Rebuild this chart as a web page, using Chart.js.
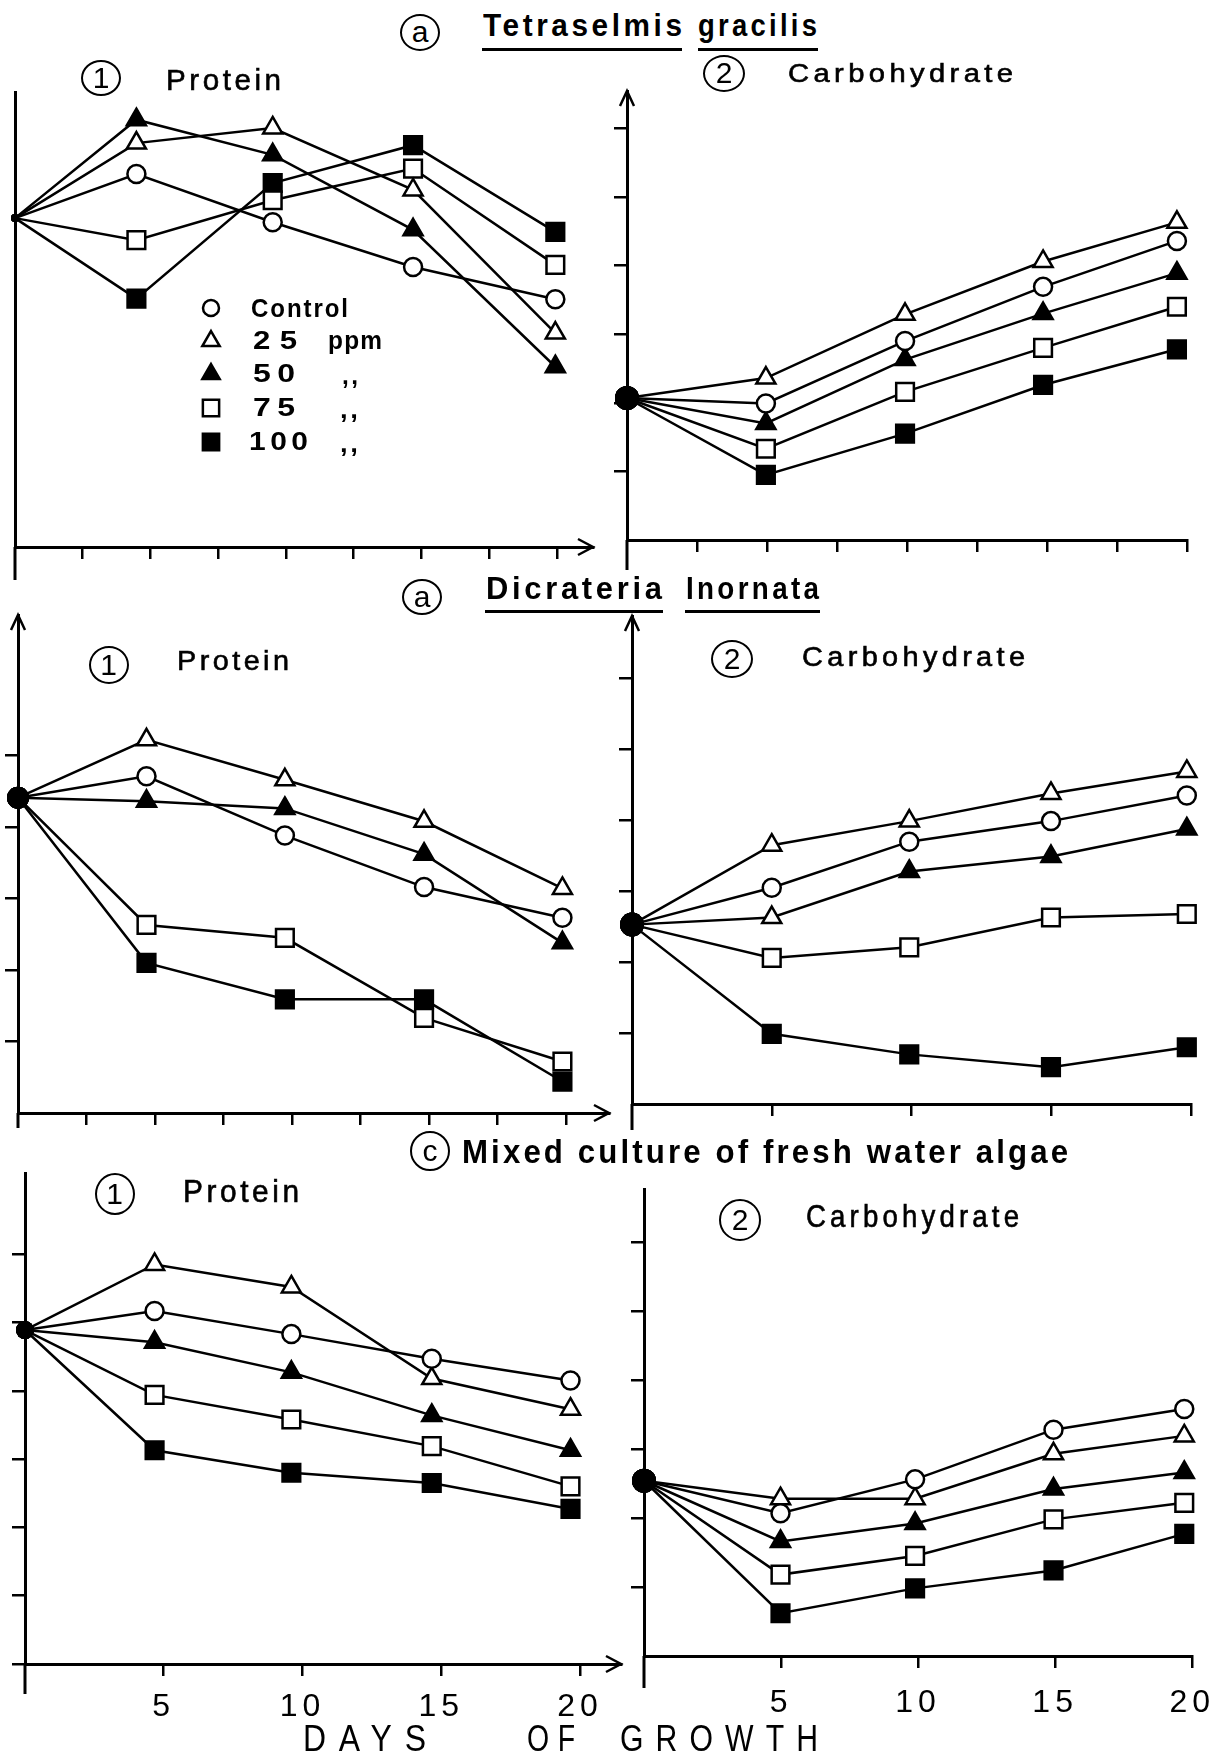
<!DOCTYPE html>
<html><head><meta charset="utf-8">
<script src="https://cdn.jsdelivr.net/npm/chart.js@4/dist/chart.umd.min.js"></script>
<style>
html,body{margin:0;padding:0;background:#fff;}
body{position:relative;width:1226px;height:1759px;overflow:hidden;color:#000;}
canvas{position:absolute;}
.t{position:absolute;white-space:nowrap;line-height:1;transform-origin:0 0;font-family:"Liberation Sans",Arial,sans-serif;}
.med{-webkit-text-stroke:0.6px #000;}
.circ{position:absolute;border:2.5px solid #000;border-radius:50%;box-sizing:border-box;display:flex;align-items:center;justify-content:center;font-family:"Liberation Sans",Arial,sans-serif;line-height:1;}
.ul{position:absolute;height:3px;background:#000;}
</style></head><body>
<script>
// ---------------- DATA (arbitrary units) ----------------
const seriesLabels = ['Control', '25 ppm', '50 ppm', '75 ppm', '100 ppm'];

// days of growth, as placed on each panel
const daysTetraProtein = [0, 4.48, 9.51, 14.69, 19.94];
const daysTetraCarb    = [0, 4.96, 9.93, 14.86, 19.64];
const daysDicraProtein = [0, 4.69, 9.74, 14.82, 19.87];
const daysDicraCarb    = [0, 5.00, 9.92, 14.99, 19.85];
const daysMixedProtein = [0, 4.67, 9.60, 14.66, 19.66];
const daysMixedCarb    = [0, 4.98, 9.89, 14.94, 19.71];

// (a) Tetraselmis gracilis - Protein
const tetraProteinControl = [4.78, 5.42, 4.72, 4.07, 3.60];
const tetraProtein25      = [4.78, 5.87, 6.09, 5.19, 3.11];
const tetraProtein50      = [4.78, 6.21, 5.70, 4.61, 2.62];
const tetraProtein75      = [4.78, 4.46, 5.04, 5.50, 4.10];
const tetraProtein100     = [4.78, 3.61, 5.29, 5.84, 4.58];
// (a) Tetraselmis gracilis - Carbohydrate
const tetraCarbControl = [2.07, 1.99, 2.90, 3.69, 4.36];
const tetraCarb25      = [2.07, 2.36, 3.29, 4.06, 4.63];
const tetraCarb50      = [2.07, 1.70, 2.63, 3.30, 3.89];
const tetraCarb75      = [2.07, 1.33, 2.16, 2.80, 3.40];
const tetraCarb100     = [2.07, 0.95, 1.55, 2.26, 2.78];
// (a) Dicrateria inornata - Protein
const dicraProteinControl = [4.41, 4.71, 3.88, 3.16, 2.73];
const dicraProtein25      = [4.41, 5.22, 4.66, 4.08, 3.14];
const dicraProtein50      = [4.41, 4.36, 4.26, 3.62, 2.38];
const dicraProtein75      = [4.41, 2.63, 2.45, 1.33, 0.72];
const dicraProtein100     = [4.41, 2.10, 1.59, 1.59, 0.44];
// (a) Dicrateria inornata - Carbohydrate
const dicraCarbControl = [2.53, 3.05, 3.70, 3.99, 4.35];
const dicraCarb25      = [2.53, 3.65, 3.99, 4.38, 4.69];
const dicraCarb50      = [2.53, 2.63, 3.28, 3.49, 3.88];
const dicraCarb75      = [2.53, 2.06, 2.21, 2.63, 2.68];
const dicraCarb100     = [2.53, 0.99, 0.70, 0.52, 0.80];
// (c) Mixed culture - Protein
const mixedProteinControl = [4.89, 5.17, 4.83, 4.47, 4.15];
const mixedProtein25      = [4.89, 5.85, 5.52, 4.18, 3.73];
const mixedProtein50      = [4.89, 4.71, 4.27, 3.64, 3.13];
const mixedProtein75      = [4.89, 3.94, 3.58, 3.19, 2.60];
const mixedProtein100     = [4.89, 3.13, 2.80, 2.65, 2.27];
// (c) Mixed culture - Carbohydrate
const mixedCarbControl = [2.54, 2.07, 2.56, 3.28, 3.58];
const mixedCarb25      = [2.54, 2.28, 2.28, 2.93, 3.19];
const mixedCarb50      = [2.54, 1.66, 1.92, 2.42, 2.66];
const mixedCarb75      = [2.54, 1.18, 1.45, 1.98, 2.22];
const mixedCarb100     = [2.54, 0.62, 0.98, 1.24, 1.77];

// tick positions / labels
const halfStepDayTicks = [2.5, 5, 7.5, 10, 12.5, 15, 17.5, 20];
const fiveDayTicks = [5, 10, 15, 20];
const dayTickLabels = ['5', '10', '15', '20'];
const yTicks1to5 = [1, 2, 3, 4, 5];
const yTicks1to6 = [1, 2, 3, 4, 5, 6];
const yTicks0to6 = [0, 1, 2, 3, 4, 5, 6];

// ---------------- STYLES ----------------
const markerStyles = [
  {style: 'circle',   fill: '#fff', r: 9},
  {style: 'triangle', fill: '#fff', r: 11},
  {style: 'triangle', fill: '#000', r: 11},
  {style: 'rect',     fill: '#fff', r: 12.5},
  {style: 'rect',     fill: '#000', r: 12.5}
];
const TICK_FONT = '"Liberation Sans", Arial, sans-serif';

const decor = new Map();
const axisDecor = {
  id: 'axisDecor',
  beforeDraw(chart) {
    const d = decor.get(chart.canvas);
    if (d && d.letterSpacing) { try { chart.ctx.letterSpacing = d.letterSpacing; } catch (e) {} }
  },
  afterDraw(chart) {
    const d = decor.get(chart.canvas); if (!d) return;
    const ctx = chart.ctx, a = chart.chartArea;
    ctx.save();
    ctx.strokeStyle = '#000'; ctx.lineWidth = 3; ctx.lineCap = 'butt';
    if (d.yExt) { ctx.beginPath(); ctx.moveTo(a.left, a.bottom); ctx.lineTo(a.left, a.bottom + d.yExt); ctx.stroke(); }
    ctx.lineWidth = 2.5;
    if (d.arrowX) { ctx.beginPath(); ctx.moveTo(a.right - 15, a.bottom - 8); ctx.lineTo(a.right, a.bottom); ctx.lineTo(a.right - 15, a.bottom + 8); ctx.stroke(); }
    if (d.arrowY) { ctx.beginPath(); ctx.moveTo(a.left - 7, a.top + 15); ctx.lineTo(a.left, a.top); ctx.lineTo(a.left + 7, a.top + 15); ctx.stroke(); }
    if (d.legend) {
      d.legend.forEach(s => {
        ctx.fillStyle = s.fill; ctx.strokeStyle = '#000'; ctx.lineWidth = 2.5;
        Chart.helpers.drawPoint(ctx, {pointStyle: s.style, radius: s.r, borderWidth: 2.5, rotation: 0}, s.x - d.left, s.y - d.top);
      });
    }
    ctx.restore();
  }
};
Chart.register(axisDecor);

// panel geometry (page pixels): y-axis x, x-axis y, axis top, axis right end
const panels = [
  {days: daysTetraProtein, series: [tetraProteinControl, tetraProtein25, tetraProtein50, tetraProtein75, tetraProtein100],
   X: 15, Y: 547, T: 92, R: 593, wY: 15, hX: 40, pt: 6, pr: 8, xMax: 21.33, yMax: 6.613,
   xTicks: halfStepDayTicks, yTicks: null, arrowX: true, arrowY: false, yExt: 33, originR: 4,
   legend: [
     {style: 'circle', fill: '#fff', r: 8, x: 211, y: 308},
     {style: 'triangle', fill: '#fff', r: 10, x: 211, y: 341},
     {style: 'triangle', fill: '#000', r: 10, x: 211, y: 374},
     {style: 'rect', fill: '#fff', r: 11.5, x: 211, y: 408},
     {style: 'rect', fill: '#000', r: 11.5, x: 211, y: 442}
   ]},
  {days: daysTetraCarb, series: [tetraCarbControl, tetraCarb25, tetraCarb50, tetraCarb75, tetraCarb100],
   X: 627, Y: 540, T: 91, R: 1187, wY: 20, hX: 40, pt: 6, pr: 10, xMax: 20, yMax: 6.545,
   xTicks: halfStepDayTicks, yTicks: yTicks1to6, arrowX: false, arrowY: true, yExt: 30, originR: 12},
  {days: daysDicraProtein, series: [dicraProteinControl, dicraProtein25, dicraProtein50, dicraProtein75, dicraProtein100],
   X: 18, Y: 1113, T: 615, R: 609, wY: 18, hX: 40, pt: 6, pr: 8, xMax: 21.57, yMax: 6.965,
   xTicks: halfStepDayTicks, yTicks: yTicks1to5, arrowX: true, arrowY: true, yExt: 15, originR: 11},
  {days: daysDicraCarb, series: [dicraCarbControl, dicraCarb25, dicraCarb50, dicraCarb75, dicraCarb100],
   X: 632, Y: 1104, T: 616, R: 1191, wY: 20, hX: 40, pt: 6, pr: 10, xMax: 20, yMax: 6.883,
   xTicks: fiveDayTicks, yTicks: yTicks1to6, arrowX: false, arrowY: true, yExt: 26, originR: 12,
   openPts: [[2, 1]]},
  {days: daysMixedProtein, series: [mixedProteinControl, mixedProtein25, mixedProtein50, mixedProtein75, mixedProtein100],
   X: 25, Y: 1664, T: 1173, R: 621, wY: 25, hX: 80, pt: 6, pr: 9, xMax: 21.48, yMax: 7.189,
   xTicks: fiveDayTicks, yTicks: yTicks0to6, arrowX: true, arrowY: false, yExt: 30, originR: 9,
   xLabels: true, labelPad: 12},
  {days: daysMixedCarb, series: [mixedCarbControl, mixedCarb25, mixedCarb50, mixedCarb75, mixedCarb100],
   X: 644, Y: 1656, T: 1189, R: 1205, wY: 20, hX: 80, pt: 6, pr: 21, xMax: 20, yMax: 6.768,
   xTicks: fiveDayTicks, yTicks: yTicks1to6, arrowX: false, arrowY: false, yExt: 32, originR: 12,
   xLabels: true, labelPad: 16}
];

panels.forEach(p => {
  const left = p.X - p.wY, top = p.T - p.pt;
  const w = Math.round(p.R + p.pr - left), h = Math.round(p.Y + p.hX - top);
  const cv = document.createElement('canvas');
  cv.width = w; cv.height = h;
  cv.style.left = left + 'px'; cv.style.top = top + 'px';
  cv.style.width = w + 'px'; cv.style.height = h + 'px';
  document.body.appendChild(cv);
  decor.set(cv, {left, top, yExt: p.yExt, arrowX: p.arrowX, arrowY: p.arrowY, legend: p.legend,
                 letterSpacing: p.xLabels ? '5px' : null});
  const open = p.openPts || [];
  const datasets = p.series.map((vals, si) => {
    const st = markerStyles[si];
    return {
      label: seriesLabels[si],
      data: p.days.map((d, i) => ({x: d, y: vals[i]})),
      borderColor: '#000', borderWidth: 2.5, fill: false, tension: 0, clip: false,
      pointStyle: p.days.map((_, i) => i === 0 ? 'circle' : st.style),
      pointRadius: p.days.map((_, i) => i === 0 ? p.originR : st.r),
      pointHoverRadius: p.days.map((_, i) => i === 0 ? p.originR : st.r),
      pointBackgroundColor: p.days.map((_, i) => i === 0 ? '#000' :
        (open.some(q => q[0] === si && q[1] === i) ? '#fff' : st.fill)),
      pointBorderColor: '#000',
      pointBorderWidth: p.days.map((_, i) => i === 0 ? 0 : 2.5)
    };
  });
  new Chart(cv, {
    type: 'line',
    data: {datasets},
    options: {
      responsive: false, animation: false, devicePixelRatio: 1, events: [],
      layout: {autoPadding: false, padding: {top: p.pt, right: p.pr, left: 0, bottom: 0}},
      plugins: {legend: {display: false}, tooltip: {enabled: false}},
      scales: {
        x: {
          type: 'linear', min: 0, max: p.xMax,
          afterBuildTicks: s => { s.ticks = p.xTicks.map(v => ({value: v})); },
          afterFit: s => { s.height = p.hX; },
          grid: {display: true, drawOnChartArea: false, drawTicks: true, tickLength: 12, color: '#000', lineWidth: 2.5},
          border: {display: true, color: '#000', width: 3},
          ticks: {display: !!p.xLabels, autoSkip: false, maxRotation: 0, minRotation: 0, padding: p.labelPad || 0,
                  color: '#000', font: {family: TICK_FONT, size: 32},
                  callback: v => { const k = fiveDayTicks.indexOf(v); return k >= 0 ? dayTickLabels[k] : ''; }}
        },
        y: {
          type: 'linear', min: 0, max: p.yMax,
          afterBuildTicks: s => { s.ticks = (p.yTicks || [0]).map(v => ({value: v})); },
          afterFit: s => { s.width = p.wY; },
          grid: {display: !!p.yTicks, drawOnChartArea: false, drawTicks: true, tickLength: 13, color: '#000', lineWidth: 2.5},
          border: {display: true, color: '#000', width: 3},
          ticks: {display: false}
        }
      }
    }
  });
});

// ---------------- TEXT ----------------
function addText(txt, left, baseline, cap, width, weight, lsEm, cls) {
  const f = cap / 0.716;
  const s = document.createElement('span');
  s.className = 't' + (cls ? ' ' + cls : '');
  s.textContent = txt;
  s.style.left = left + 'px';
  s.style.top = (baseline - 0.8465 * f) + 'px';
  s.style.fontSize = f + 'px';
  s.style.fontWeight = weight;
  s.style.letterSpacing = (lsEm || 0) + 'em';
  document.body.appendChild(s);
  if (width) {
    const vis = s.getBoundingClientRect().width - (lsEm || 0) * f;
    s.style.transform = 'scaleX(' + (width / vis) + ')';
  }
}
function addCirc(ch, cx, cy, w, h, fs) {
  const d = document.createElement('div');
  d.className = 'circ';
  d.textContent = ch;
  d.style.left = (cx - w / 2) + 'px'; d.style.top = (cy - h / 2) + 'px';
  d.style.width = w + 'px'; d.style.height = h + 'px'; d.style.fontSize = fs + 'px';
  document.body.appendChild(d);
}
function addUL(x, y, w) {
  const d = document.createElement('div');
  d.className = 'ul';
  d.style.left = x + 'px'; d.style.top = y + 'px'; d.style.width = w + 'px';
  document.body.appendChild(d);
}

// titles
addCirc('a', 420, 32, 40, 37, 30);
addText('Tetraselmis', 483, 37, 22, 199, 'bold', 0.12);
addText('gracilis', 698, 37, 22, 119, 'bold', 0.12);
addUL(482, 48, 200); addUL(698, 48, 120);

addCirc('a', 422, 597, 40, 36, 30);
addText('Dicrateria', 486, 600, 22.5, 176, 'bold', 0.12);
addText('Inornata', 686, 600, 22.5, 133, 'bold', 0.12);
addUL(485, 610, 178); addUL(685, 610, 135);

addCirc('c', 430, 1151, 40, 40, 30);
addText('Mixed culture of fresh water algae', 462, 1163, 24, 606, 'bold', 0.1);

// panel labels
addCirc('1', 101, 78, 40, 36, 30);   addText('Protein', 166, 90, 21, 115, 'normal', 0.12, 'med');
addCirc('2', 724, 73, 42, 37, 30);   addText('Carbohydrate', 788, 82, 19, 225, 'normal', 0.15, 'med');
addCirc('1', 108.5, 664.5, 40, 38, 30); addText('Protein', 177, 671, 20, 112, 'normal', 0.12, 'med');
addCirc('2', 732, 659, 42, 38, 30);  addText('Carbohydrate', 802, 667, 20, 223, 'normal', 0.15, 'med');
addCirc('1', 114.5, 1194, 40, 42, 30); addText('Protein', 183, 1203.5, 22, 116, 'normal', 0.12, 'med');
addCirc('2', 740, 1220, 42, 42, 30); addText('Carbohydrate', 806, 1228, 22, 213, 'normal', 0.15, 'med');

// legend text
addText('Control', 251, 317, 18, 97, 'bold', 0.08);
addText('25', 253, 349, 18, 44, 'bold', 0.3);
addText('ppm', 328, 349, 18, 54, 'bold', 0.05);
addText('50', 253, 382, 18, 42, 'bold', 0.2);
addText(',,', 342, 384, 18, 16, 'bold', 0.1);
addText('75', 253, 416, 18, 42, 'bold', 0.2);
addText(',,', 340, 418, 18, 18, 'bold', 0.1);
addText('100', 249, 450, 18, 59, 'bold', 0.15);
addText(',,', 340, 452, 18, 18, 'bold', 0.1);

// x-axis title
addText('DAYS', 303, 1752, 26, 123, 'normal', 0.4);
addText('OF', 527, 1752, 26, 48, 'normal', 0.3);
addText('GROWTH', 620, 1752, 26, 198, 'normal', 0.4);
</script>
</body></html>
